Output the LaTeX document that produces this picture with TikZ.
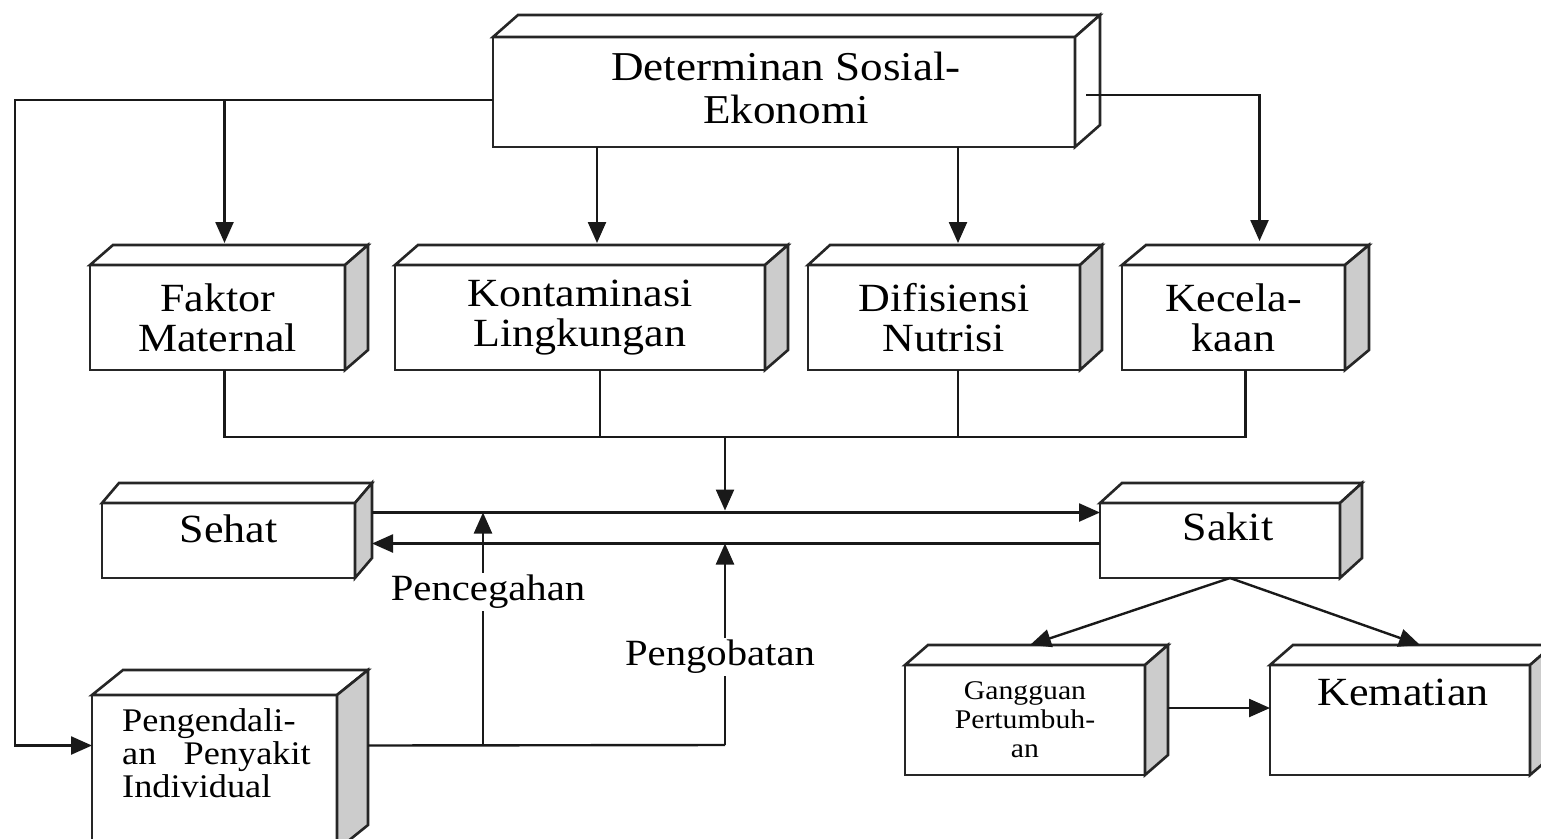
\documentclass[tikz,border=0pt]{standalone}
\usepackage{fontspec}
\setmainfont{Liberation Serif}[FakeStretch=1.1]
\usetikzlibrary{arrows.meta,calc}
\newcommand\cubefaces[4]{%
  \filldraw[boxline,fill=white] (#1.north west) -- ($(#1.north west)+(#2,-#3)$) -- ($(#1.north east)+(#2,-#3)$) -- (#1.north east) -- cycle;
  \filldraw[boxline,fill=#4] (#1.north east) -- ($(#1.north east)+(#2,-#3)$) -- ($(#1.south east)+(#2,-#3)$) -- (#1.south east) -- cycle;
}
\tikzset{
  boxline/.style={line width=2.6pt, draw=black!85},
  box/.style={boxline, draw, fill=white, outer sep=0pt, inner sep=0pt, align=center,
              font=\fontsize{40}{40}\selectfont},
  lbl/.style={inner sep=2pt, align=center, font=\fontsize{40}{40}\selectfont},
  conn/.style={line width=2.4pt, draw=black!90},
  arr/.style={conn, -{Triangle[length=21pt,width=18pt]}},
}
\begin{document}
\begin{tikzpicture}[x=1pt,y=-1pt]
\useasboundingbox (0,0) rectangle (1541,838);
\fill[white] (0,0) rectangle (1541,838);
\clip (0,0) rectangle (1541,838);

% boxes
\node[box, minimum width=582pt, minimum height=110pt] (dse) at (784,92) {};
\cubefaces{dse}{25}{22}{white}
\node[lbl, font=\fontsize{41}{43}\selectfont] (dset) at ($(dse.center)+(2,-4)$) {Determinan Sosial-\\Ekonomi};
\node[box, minimum width=255pt, minimum height=105pt] (fm) at (217.5,317.5) {Faktor\\Maternal};
\cubefaces{fm}{23}{20}{gray!40}
\node[box, minimum width=370pt, minimum height=105pt] (kl) at (580,317.5) {Kontaminasi\\Lingkungan};
\cubefaces{kl}{23}{20}{gray!40}
\node[box, minimum width=272pt, minimum height=105pt] (dn) at (944,317.5) {Difisiensi\\Nutrisi};
\cubefaces{dn}{22}{20}{gray!40}
\node[box, minimum width=223pt, minimum height=105pt] (kc) at (1233.5,317.5) {Kecela-\\kaan};
\cubefaces{kc}{24}{20}{gray!40}
\node[box, minimum width=253pt, minimum height=75pt] (sh) at (228.5,540.5) {};
\cubefaces{sh}{17}{20}{gray!40}
\node[lbl] (sht) at ($(sh.center)+(0,-12)$) {Sehat};
\node[box, minimum width=240pt, minimum height=75pt] (sk) at (1220,540.5) {};
\cubefaces{sk}{22}{20}{gray!40}
\node[lbl] (skt) at ($(sk.center)+(8,-14)$) {Sakit};
\node[box, minimum width=245pt, minimum height=155pt] (pk) at (214.5,772.5) {};
\cubefaces{pk}{31}{25}{gray!40}
\node[lbl, anchor=north west, align=left, font=\fontsize{33}{33}\selectfont] (pkt) at (120,706) {Pengendali-\\an\ \ \ Penyakit\\Individual};
\node[box, minimum width=240pt, minimum height=110pt, font=\fontsize{27}{29}\selectfont] (gg) at (1025,720) {Gangguan\\Pertumbuh-\\an};
\cubefaces{gg}{23}{20}{gray!40}
\node[box, minimum width=260pt, minimum height=110pt] (km) at (1400,720) {};
\cubefaces{km}{23}{20}{gray!40}
\node[lbl] (kmt) at ($(km.center)+(3,-28)$) {Kematian};

% connectors from top box
\coordinate (topl) at ($(dse.west)+(0,8)$);
\coordinate (fmin) at ($(fm.north)+(7,-22)$);
\coordinate (klin) at ($(kl.north)+(17,-22)$);
\coordinate (dnin) at ($(dn.north)+(14,-22)$);
\coordinate (kcin) at ($(kc.north)+(26,-24)$);
\coordinate (pkin) at ($(pk.west)+(0,-27)$);
\draw[arr] (topl) -| ($(pkin)+(-77,0)$) -- (pkin);
\draw[arr] (fmin |- topl) -- (fmin);
\draw[arr] (klin |- dse.south) -- (klin);
\draw[arr] (dnin |- dse.south) -- (dnin);
\draw[arr] ($(dse.east)+(11,3)$) -| (kcin);

% bus
\coordinate (bus) at (725,437);
\draw[conn] ($(fm.south)+(7,0)$) |- (bus) ;
\draw[conn] ($(kc.south)+(12,0)$) |- (bus);
\draw[conn] ($(kl.south)+(20,0)$) -- ($(kl.south)+(20,67)$);
\draw[conn] ($(dn.south)+(14,0)$) -- ($(dn.south)+(14,67)$);

% sehat <-> sakit
\coordinate (up) at ($(sh.east)+(17,-28)$);
\coordinate (lo) at ($(sh.east)+(17,3)$);
\draw[arr] (up) -- (up -| sk.west);
\draw[arr] (lo -| sk.west) -- (lo);
\draw[arr] (bus) -- ($(bus |- up)+(0,-2)$);

% pengendalian
\coordinate (pkout) at ($(pk.east)+(31,-27)$);
\coordinate (pcx) at (483,745);
\coordinate (pgx) at (725,745);
\draw[conn] (pkout) -- (pgx);
\draw[arr] (pcx) -- (pcx |- up);
\draw[arr] (pgx) -- (pgx |- lo);
\node[lbl, fill=white, font=\fontsize{37}{37}\selectfont] (pc) at (488,592) {Pencegahan};
\node[lbl, fill=white, font=\fontsize{37}{37}\selectfont] (pg) at (720,657) {Pengobatan};

% sakit outcomes
\draw[arr] ($(sk.south)+(10,0)$) -- ($(gg.north)+(5,-20)$);
\draw[arr] ($(sk.south)+(10,0)$) -- ($(km.north)+(20,-20)$);
\draw[arr] ($(gg.east)+(23,-12)$) -- ($(km.west)+(0,-12)$);
\end{tikzpicture}
\end{document}
